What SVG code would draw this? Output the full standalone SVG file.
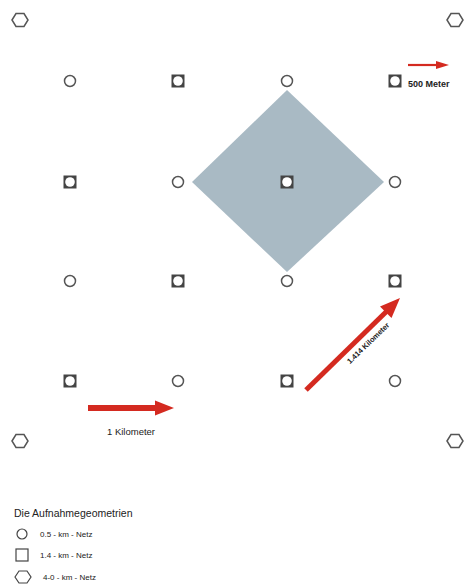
<svg xmlns="http://www.w3.org/2000/svg" width="465" height="585" viewBox="0 0 465 585">
<style>
.c{fill:#fff;stroke:#555;stroke-width:1.5}
.sq{fill:#444}
.sqi{fill:#fff}
.hx{fill:#fff;stroke:#555;stroke-width:1.5}
.t{font-family:"Liberation Sans",Arial,sans-serif;fill:#222}
.arr{stroke:#d42a20;fill:none}
.ah{fill:#d42a20}
</style>
<defs>
<g id="circ"><circle r="5.5" class="c"/></g>
<g id="sqm"><rect x="-6.5" y="-6.5" width="13" height="13" class="sq"/><circle r="4.8" class="sqi"/></g>
<g id="hex"><polygon points="-8,0 -4,-6.5 4,-6.5 8,0 4,6.5 -4,6.5" class="hx"/></g>
</defs>
<rect width="465" height="585" fill="#fff"/>
<polygon id="diamond" points="287,90 384,182 287,272 192,182" fill="#a9bac4"/>
<g id="nodes">
<use id="h1" href="#hex" x="20" y="20"/>
<use id="h2" href="#hex" x="455" y="20"/>
<use id="h3" href="#hex" x="20" y="441"/>
<use id="h4" href="#hex" x="455" y="441"/>
<use id="n11" href="#circ" x="70" y="81"/>
<use id="n12" href="#sqm" x="178" y="81"/>
<use id="n13" href="#circ" x="287" y="81"/>
<use id="n14" href="#sqm" x="395" y="81"/>
<use id="n21" href="#sqm" x="70" y="182"/>
<use id="n22" href="#circ" x="178" y="182"/>
<use id="n23" href="#sqm" x="287" y="182"/>
<use id="n24" href="#circ" x="395" y="182"/>
<use id="n31" href="#circ" x="70" y="281"/>
<use id="n32" href="#sqm" x="178" y="281"/>
<use id="n33" href="#circ" x="287" y="281"/>
<use id="n34" href="#sqm" x="395" y="281"/>
<use id="n41" href="#sqm" x="70" y="381"/>
<use id="n42" href="#circ" x="178" y="381"/>
<use id="n43" href="#sqm" x="287" y="381"/>
<use id="n44" href="#circ" x="395" y="381"/>
</g>
<g id="connectors">
<line x1="408" y1="65" x2="438" y2="65" class="arr" stroke-width="2.2"/>
<polygon class="ah" points="436,61 449,65 436,69"/>
<line x1="88" y1="408" x2="158" y2="408" class="arr" stroke-width="6"/>
<polygon class="ah" points="155,400.5 174,408 155,415.5"/>
<line x1="306" y1="390" x2="388" y2="310" class="arr" stroke-width="5"/>
<polygon class="ah" points="400,298 391.5,318 380,306.5"/>
</g>
<g id="labels">
<text class="t" x="408" y="87" font-size="9" font-weight="bold">500 Meter</text>
<text class="t" x="131" y="435" font-size="9.5" text-anchor="middle">1 Kilometer</text>
<text class="t" x="0" y="0" font-size="7.5" font-weight="bold" text-anchor="middle" transform="translate(370,345) rotate(-44)">1.414 Kilometer</text>
</g>
<g id="legend">
<text class="t" x="14" y="517" font-size="10.5">Die Aufnahmegeometrien</text>
<circle cx="22" cy="534" r="5" fill="#fff" stroke="#444" stroke-width="1.2"/>
<text class="t" x="40" y="537" font-size="8">0.5 - km - Netz</text>
<rect x="16" y="549" width="12" height="12" fill="#fff" stroke="#444" stroke-width="1.2"/>
<text class="t" x="40" y="558" font-size="8">1.4 - km - Netz</text>
<polygon points="15,577 19,571 27,571 31,577 27,583 19,583" fill="#fff" stroke="#444" stroke-width="1.2"/>
<text class="t" x="43" y="580" font-size="8">4-0 - km - Netz</text>
</g>
</svg>
